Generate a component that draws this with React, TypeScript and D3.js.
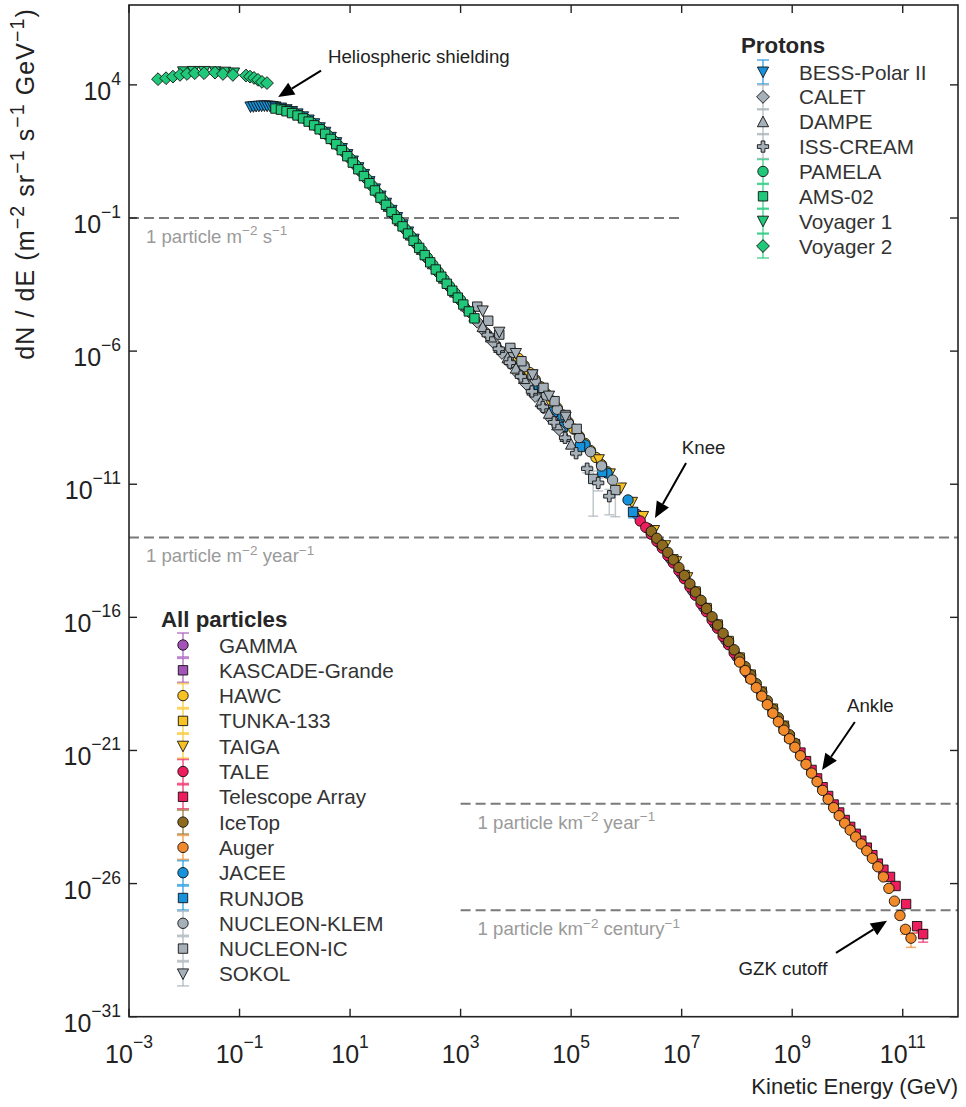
import React from "react";
import * as d3 from "d3";

// ---------- Proton spectra (kinetic energy in GeV, flux in m^-2 sr^-1 s^-1 GeV^-1) ----------
const bessE = [0.158, 0.178, 0.2, 0.224, 0.251, 0.282, 0.316, 0.355, 0.398, 0.447, 0.562, 0.708, 0.891, 1.12, 1.41, 1.78, 2.24, 2.82, 3.55, 4.47, 5.62, 7.08, 8.91, 11.2, 14.1, 17.8, 22.4, 28.2, 35.5, 44.7, 56.2, 70.8, 89.1, 112, 141];
const bessF = [1.48e3, 1.51e3, 1.55e3, 1.58e3, 1.6e3, 1.62e3, 1.6e3, 1.58e3, 1.53e3, 1.48e3, 1.35e3, 1.17e3, 1.0e3, 813, 631, 479, 347, 245, 166, 107, 67.6, 40.7, 24.0, 13.8, 7.76, 4.32, 2.32, 1.24, 0.668, 0.359, 0.193, 0.104, 0.0556, 0.0299, 0.016];

const caletE = [63.1, 100, 158, 251, 398, 631, 1000, 1410, 2000, 2820, 3980, 5620, 7940, 1.12e4, 1.58e4, 2.24e4, 3.16e4, 4.47e4, 6.03e4];
const caletF = [0.123, 0.0355, 0.0102, 2.95e-3, 8.51e-4, 2.51e-4, 7.59e-5, 3.09e-5, 1.26e-5, 5.13e-6, 2.09e-6, 8.51e-7, 3.47e-7, 1.41e-7, 5.56e-8, 2.04e-8, 7.5e-9, 2.75e-9, 1.16e-9];

const dampeE = [50.1, 79.4, 126, 200, 316, 501, 794, 1260, 1780, 2510, 3550, 5010, 7080, 1.0e4, 1.41e4, 2.0e4, 2.82e4, 3.98e4, 5.62e4, 7.94e4, 1.0e5];
const dampeF = [0.275, 0.0794, 0.0229, 6.61e-3, 1.91e-3, 5.5e-4, 1.66e-4, 5.01e-5, 2.04e-5, 8.32e-6, 3.39e-6, 1.38e-6, 5.62e-7, 2.29e-7, 9.33e-8, 3.43e-8, 1.26e-8, 4.62e-9, 1.7e-9, 6.24e-10, 3.2e-10];

const issCreamE = [3090, 4900, 7760, 1.23e4, 1.95e4, 3.09e4, 4.9e4, 7.76e4, 1.23e5, 1.95e5, 3.09e5, 4.9e5];
const issCreamF = [4.04e-6, 1.22e-6, 3.68e-7, 1.11e-7, 3.05e-8, 8.02e-9, 2.11e-9, 5.55e-10, 1.46e-10, 3.84e-11, 1.12e-11, 3.55e-12];
const issCreamErr = [0.05, 0.05, 0.05, 0.05, 0.05, 0.1, 0.1, 0.15, 0.2, 0.3, 0.5, 0.8];

const pamelaE = [0.501, 0.631, 0.794, 1.0, 1.26, 1.58, 2.0, 2.51, 3.16, 3.98, 5.01, 6.31, 7.94, 10.0, 12.6, 15.8, 20.0, 25.1, 31.6, 39.8, 50.1, 63.1, 79.4, 100, 126, 158, 200, 251, 316, 398, 501, 631, 794, 1000];
const pamelaF = [1.35e3, 1.2e3, 1.04e3, 861, 684, 525, 389, 279, 193, 127, 81.3, 50.1, 29.9, 17.4, 9.89, 5.56, 3.02, 1.62, 0.871, 0.468, 0.251, 0.135, 0.0724, 0.0389, 0.0209, 0.0112, 6.03e-3, 3.24e-3, 1.74e-3, 9.33e-4, 5.01e-4, 2.75e-4, 1.51e-4, 8.32e-5];

const amsE = [0.447, 0.562, 0.708, 0.891, 1.12, 1.41, 1.78, 2.24, 2.82, 3.55, 4.47, 5.62, 7.08, 8.91, 11.2, 14.1, 17.8, 22.4, 28.2, 35.5, 44.7, 56.2, 70.8, 89.1, 112, 141, 178, 224, 282, 355, 447, 562, 708, 891, 1120, 1410, 1780];
const amsF = [1.29e3, 1.17e3, 1.02e3, 871, 708, 550, 417, 302, 214, 145, 93.3, 58.9, 35.5, 20.9, 12.0, 6.76, 3.76, 2.02, 1.08, 0.582, 0.313, 0.168, 0.0902, 0.0484, 0.026, 0.014, 7.5e-3, 4.03e-3, 2.16e-3, 1.16e-3, 6.24e-4, 3.39e-4, 1.86e-4, 1.02e-4, 5.62e-5, 3.09e-5, 1.7e-5];

const voyager1E = [9.55e-3, 1.45e-2, 2.29e-2, 3.63e-2, 5.5e-2, 7.94e-2];
const voyager1F = [3.1e4, 3.2e4, 3.2e4, 3.1e4, 3.0e4, 2.8e4];

const voyager2E = [3.35e-3, 4.68e-3, 6.24e-3, 8.38e-3, 1.12e-2, 1.55e-2, 2.28e-2, 3.6e-2, 5.01e-2, 7.59e-2, 0.131, 0.155, 0.183, 0.216, 0.255, 0.314];
const voyager2F = [1.64e4, 1.78e4, 2.04e4, 2.37e4, 2.57e4, 2.75e4, 2.75e4, 2.88e4, 2.57e4, 2.37e4, 2.24e4, 2.04e4, 1.82e4, 1.55e4, 1.29e4, 1.17e4];

// ---------- All-particle spectra ----------
const gammaE = [1.58e6, 2.51e6, 3.98e6, 6.31e6, 1.0e7, 1.58e7, 2.51e7, 3.98e7, 6.31e7, 1.0e8, 1.58e8];
const gammaF = [7.24e-13, 2.14e-13, 6.17e-14, 1.58e-14, 4.17e-15, 1.0e-15, 2.4e-16, 5.75e-17, 1.38e-17, 3.31e-18, 7.76e-19];

const kascadeE = [1.12e7, 1.78e7, 2.82e7, 4.47e7, 7.08e7, 1.12e8, 1.78e8, 2.82e8, 4.47e8, 7.08e8, 8.91e8];
const kascadeF = [3.55e-15, 8.51e-16, 2.04e-16, 4.9e-17, 1.12e-17, 2.51e-18, 5.37e-19, 1.2e-19, 2.82e-20, 6.61e-21, 3.16e-21];

const hawcE = [1.12e4, 1.41e4, 1.78e4, 2.24e4, 2.82e4, 3.55e4, 4.47e4, 5.62e4, 7.08e4, 8.91e4, 1.12e5, 1.41e5, 1.78e5, 2.24e5, 2.82e5, 3.55e5, 4.47e5];
const hawcF = [5.33e-7, 2.89e-7, 1.57e-7, 8.49e-8, 4.6e-8, 2.49e-8, 1.35e-8, 7.33e-9, 3.97e-9, 2.15e-9, 1.17e-9, 6.32e-10, 3.43e-10, 1.86e-10, 1.01e-10, 5.46e-11, 2.96e-11];

const tunkaE = [7.08e6, 1.12e7, 1.78e7, 2.82e7, 4.47e7, 7.08e7, 1.12e8, 1.78e8, 2.82e8, 4.47e8, 7.08e8];
const tunkaF = [1.51e-14, 3.89e-15, 9.33e-16, 2.24e-16, 5.37e-17, 1.29e-17, 3.09e-18, 7.08e-19, 1.62e-19, 3.72e-20, 8.51e-21];

const taigaE = [3.16e5, 5.01e5, 7.94e5, 1.26e6, 2.0e6, 3.16e6, 5.01e6, 7.94e6, 1.26e7];
const taigaF = [8.32e-11, 2.45e-11, 7.24e-12, 2.09e-12, 6.17e-13, 1.82e-13, 4.9e-14, 1.23e-14, 3.09e-15];

const taleE = [1.78e6, 2.24e6, 2.82e6, 3.55e6, 4.47e6, 5.62e6, 7.08e6, 8.91e6, 1.12e7, 1.41e7, 1.78e7, 2.24e7, 2.82e7, 3.55e7, 4.47e7, 5.62e7, 7.08e7, 8.91e7, 1.12e8, 1.41e8, 1.78e8];
const taleF = [4.17e-13, 2.4e-13, 1.32e-13, 7.24e-14, 3.98e-14, 2.09e-14, 1.1e-14, 5.62e-15, 2.82e-15, 1.38e-15, 6.76e-16, 3.31e-16, 1.62e-16, 7.94e-17, 3.89e-17, 1.91e-17, 9.33e-18, 4.57e-18, 2.24e-18, 1.07e-18, 5.13e-19];

const taE = [1.12e9, 1.41e9, 1.78e9, 2.24e9, 2.82e9, 3.55e9, 4.47e9, 5.62e9, 7.08e9, 8.91e9, 1.12e10, 1.41e10, 1.78e10, 2.24e10, 2.82e10, 3.55e10, 4.47e10, 5.89e10, 7.41e10, 1.15e11, 1.82e11, 2.34e11];
const taF = [1.74e-21, 8.32e-22, 3.98e-22, 1.86e-22, 8.91e-23, 4.17e-23, 1.95e-23, 9.33e-24, 4.68e-24, 2.45e-24, 1.35e-24, 7.41e-25, 4.07e-25, 2.24e-25, 1.17e-25, 5.62e-26, 3.31e-26, 1.78e-26, 8.13e-27, 1.7e-27, 2.51e-28, 1.26e-28];
const taErr = [0, 0, 0, 0, 0, 0, 0, 0, 0, 0, 0, 0, 0, 0, 0, 0, 0, 0, 0, 0.25, 0.45, 0.5];

const icetopE = [2.82e6, 3.55e6, 4.47e6, 5.62e6, 7.08e6, 8.91e6, 1.12e7, 1.41e7, 1.78e7, 2.24e7, 2.82e7, 3.55e7, 4.47e7, 5.62e7, 7.08e7, 8.91e7, 1.12e8, 1.41e8, 1.78e8, 2.24e8, 2.82e8, 3.55e8, 4.47e8, 5.62e8, 7.08e8, 8.91e8, 1.12e9];
const icetopF = [1.7e-13, 9.33e-14, 5.13e-14, 2.75e-14, 1.45e-14, 7.41e-15, 3.72e-15, 1.82e-15, 8.91e-16, 4.37e-16, 2.14e-16, 1.05e-16, 5.13e-17, 2.51e-17, 1.23e-17, 6.03e-18, 2.95e-18, 1.41e-18, 6.76e-19, 3.24e-19, 1.55e-19, 7.41e-20, 3.55e-20, 1.7e-20, 8.13e-21, 3.89e-21, 1.86e-21];

const augerE = [1.12e8, 1.41e8, 1.78e8, 2.24e8, 2.82e8, 3.55e8, 4.47e8, 5.62e8, 7.08e8, 8.91e8, 1.12e9, 1.41e9, 1.78e9, 2.24e9, 2.82e9, 3.55e9, 4.47e9, 5.62e9, 7.08e9, 8.91e9, 1.12e10, 1.41e10, 1.78e10, 2.24e10, 2.82e10, 3.55e10, 4.47e10, 5.62e10, 7.08e10, 8.91e10, 1.12e11, 1.41e11];
const augerF = [2.09e-18, 1.0e-18, 4.79e-19, 2.29e-19, 1.1e-19, 5.25e-20, 2.51e-20, 1.2e-20, 5.75e-21, 2.75e-21, 1.32e-21, 6.31e-22, 3.02e-22, 1.41e-22, 6.76e-23, 3.16e-23, 1.48e-23, 7.08e-24, 3.55e-24, 1.86e-24, 1.02e-24, 5.62e-25, 3.09e-25, 1.7e-25, 8.91e-26, 4.27e-26, 1.78e-26, 6.61e-27, 2.19e-27, 6.31e-28, 1.91e-28, 8.91e-29];
const augerErr = [0, 0, 0, 0, 0, 0, 0, 0, 0, 0, 0, 0, 0, 0, 0, 0, 0, 0, 0, 0, 0, 0, 0, 0, 0, 0, 0, 0, 0, 0.2, 0.35, 0.55];

const jaceeE = [2.82e4, 7.08e4, 1.78e5, 4.47e5, 1.07e6];
const jaceeF = [4.07e-8, 3.55e-9, 3.02e-10, 2.63e-11, 2.57e-12];

const runjobE = [2.0e4, 4.68e4, 7.08e4, 1.45e5, 3.63e5, 1.32e6];
const runjobF = [5.01e-8, 5.25e-9, 1.41e-9, 2.51e-10, 2.88e-11, 9.12e-13];
const runjobErr = [0.05, 0.05, 0.05, 0.1, 0.2, 0.4];

const klemE = [8910, 1.41e4, 2.24e4, 3.55e4, 5.62e4, 8.91e4, 1.41e5, 2.24e5, 3.55e5, 5.62e5];
const klemF = [8.77e-7, 2.58e-7, 7.57e-8, 2.22e-8, 6.53e-9, 1.92e-9, 5.64e-10, 1.66e-10, 4.86e-11, 1.43e-11];

const nucleonIcE = [2000, 3160, 5010, 7940, 1.26e4, 2.0e4, 3.16e4, 5.01e4, 7.94e4, 1.26e5, 2.51e5, 6.31e5];
const nucleonIcF = [4.68e-5, 1.38e-5, 4.17e-6, 1.32e-6, 4.17e-7, 1.32e-7, 4.17e-8, 1.32e-8, 3.98e-9, 1.2e-9, 1.58e-11, 6.03e-12];
const nucleonIcErr = [0.05, 0.05, 0.05, 0.05, 0.05, 0.05, 0.1, 0.1, 0.1, 0.2, 0.96, 0.9];

const sokolE = [2510, 5010, 1.0e4, 2.0e4, 3.98e4, 7.94e4];
const sokolF = [3.24e-5, 5.13e-6, 8.13e-7, 1.29e-7, 2.04e-8, 3.31e-9];

// ---------- Axis ticks and reference levels ----------
const xTickValues = [1e-3, 1e-1, 1e1, 1e3, 1e5, 1e7, 1e9, 1e11];
const yTickValues = [1e4, 1e-1, 1e-6, 1e-11, 1e-16, 1e-21, 1e-26, 1e-31];

const refLevels = [
  { flux: 1e-1, from: 1e-3, to: 1e7, pre: "1 particle m", parts: [["−2", " s"], ["−1", ""]] },
  { flux: 1e-13, from: 1e-3, to: 1e12, pre: "1 particle m", parts: [["−2", " year"], ["−1", ""]] },
  { flux: 1e-23, from: 1e3, to: 1e12, pre: "1 particle km", parts: [["−2", " year"], ["−1", ""]] },
  { flux: 1e-27, from: 1e3, to: 1e12, pre: "1 particle km", parts: [["−2", " century"], ["−1", ""]] },
];

const annotations = [
  { text: "Heliospheric shielding", tip: [0.5, 3.5e3], tail: [2.98, 3.4e4], at: [3.98, 6.8e4], anchor: "start" },
  { text: "Knee", tip: [3.29e6, 5.4e-13], tail: [1.2e7, 6.3e-11], at: [2.5e7, 1.4e-10], anchor: "middle" },
  { text: "Ankle", tip: [3.47e9, 1.86e-22], tail: [1.36e10, 1.17e-20], at: [2.6e10, 2.8e-20], anchor: "middle" },
  { text: "GZK cutoff", tip: [5.2e10, 4.0e-28], tail: [6.2e9, 2.5e-29], at: [6.8e8, 3.7e-30], anchor: "middle" },
];

// ---------- Styling ----------
const GREEN = "#20c97a";
const BLUE = "#1592db";
const GRAY = "#a6b0b8";
const PURPLE = "#a453b8";
const YELLOW = "#f8c322";
const RED = "#ee1d5e";
const BROWN = "#8e6a1f";
const ORANGE = "#f28a2b";
const FONT = '"Liberation Sans", Arial, Helvetica, sans-serif';

type Shape = "circle" | "square" | "triUp" | "triDown" | "diamond" | "plus";

interface Series {
  name: string;
  shape: Shape;
  color: string;
  E: number[];
  F: number[];
  err?: number[];
}

const protonSeries: Series[] = [
  { name: "BESS-Polar II", shape: "triDown", color: BLUE, E: bessE, F: bessF },
  { name: "CALET", shape: "diamond", color: GRAY, E: caletE, F: caletF },
  { name: "DAMPE", shape: "triUp", color: GRAY, E: dampeE, F: dampeF },
  { name: "ISS-CREAM", shape: "plus", color: GRAY, E: issCreamE, F: issCreamF, err: issCreamErr },
  { name: "PAMELA", shape: "circle", color: GREEN, E: pamelaE, F: pamelaF },
  { name: "AMS-02", shape: "square", color: GREEN, E: amsE, F: amsF },
  { name: "Voyager 1", shape: "triDown", color: GREEN, E: voyager1E, F: voyager1F },
  { name: "Voyager 2", shape: "diamond", color: GREEN, E: voyager2E, F: voyager2F },
];

const allParticleSeries: Series[] = [
  { name: "GAMMA", shape: "circle", color: PURPLE, E: gammaE, F: gammaF },
  { name: "KASCADE-Grande", shape: "square", color: PURPLE, E: kascadeE, F: kascadeF },
  { name: "HAWC", shape: "circle", color: YELLOW, E: hawcE, F: hawcF },
  { name: "TUNKA-133", shape: "square", color: YELLOW, E: tunkaE, F: tunkaF },
  { name: "TAIGA", shape: "triDown", color: YELLOW, E: taigaE, F: taigaF },
  { name: "TALE", shape: "circle", color: RED, E: taleE, F: taleF },
  { name: "Telescope Array", shape: "square", color: RED, E: taE, F: taF, err: taErr },
  { name: "IceTop", shape: "circle", color: BROWN, E: icetopE, F: icetopF },
  { name: "Auger", shape: "circle", color: ORANGE, E: augerE, F: augerF, err: augerErr },
  { name: "JACEE", shape: "circle", color: BLUE, E: jaceeE, F: jaceeF },
  { name: "RUNJOB", shape: "square", color: BLUE, E: runjobE, F: runjobF, err: runjobErr },
  { name: "NUCLEON-KLEM", shape: "circle", color: GRAY, E: klemE, F: klemF },
  { name: "NUCLEON-IC", shape: "square", color: GRAY, E: nucleonIcE, F: nucleonIcF, err: nucleonIcErr },
  { name: "SOKOL", shape: "triDown", color: GRAY, E: sokolE, F: sokolF },
];

const W = 966;
const H = 1107;
const plot = { left: 129, right: 958, top: 5, bottom: 1016.7 };

const x = d3.scaleLog().domain([1e-3, 1e12]).range([plot.left, plot.right]);
const y = d3.scaleLog().domain([1e-31, 1e7]).range([plot.bottom, plot.top]);

const circlePath = d3.symbol(d3.symbolCircle, Math.PI * 5.2 * 5.2)() as string;
const squarePath = d3.symbol(d3.symbolSquare, 9.4 * 9.4)() as string;
const plusPath = d3.symbol(d3.symbolCross, 70)() as string;

function shapePath(shape: Shape): string {
  switch (shape) {
    case "circle":
      return circlePath;
    case "square":
      return squarePath;
    case "plus":
      return plusPath;
    case "triUp":
      return "M0,-5.6L5.6,5L-5.6,5Z";
    case "triDown":
      return "M0,5.6L5.6,-5L-5.6,-5Z";
    case "diamond":
      return "M0,-6.4L6.4,0L0,6.4L-6.4,0Z";
  }
}

function Marker({ s, cx, cy }: { s: Series; cx: number; cy: number }) {
  return (
    <path
      d={shapePath(s.shape)}
      transform={`translate(${cx},${cy})`}
      fill={s.color}
      stroke="#111"
      strokeWidth={0.9}
    />
  );
}

function SeriesMarks({ s }: { s: Series }) {
  return (
    <g>
      {s.err &&
        s.E.map((e, i) => {
          const r = s.err![i];
          if (!r) return null;
          const cx = x(e);
          const y0 = y(s.F[i] * (1 - r));
          const y1 = y(s.F[i] * (1 + r));
          return (
            <g key={"e" + i} stroke={s.color} strokeOpacity={0.7} strokeWidth={1.5}>
              <line x1={cx} x2={cx} y1={y0} y2={y1} />
              <line x1={cx - 5} x2={cx + 5} y1={y0} y2={y0} />
              <line x1={cx - 5} x2={cx + 5} y1={y1} y2={y1} />
            </g>
          );
        })}
      {s.E.map((e, i) => (
        <Marker key={i} s={s} cx={x(e)} cy={y(s.F[i])} />
      ))}
    </g>
  );
}

function Legend({
  title,
  series,
  left,
  titleY,
  firstY,
  step,
}: {
  title: string;
  series: Series[];
  left: number;
  titleY: number;
  firstY: number;
  step: number;
}) {
  const mx = left + 22;
  return (
    <g fontFamily={FONT}>
      <text x={left} y={titleY} fontSize={22.3} fontWeight="bold" fill="#262626">
        {title}
      </text>
      {series.map((s, i) => {
        const cy = firstY + i * step;
        return (
          <g key={s.name}>
            <g stroke={s.color} strokeOpacity={0.7} strokeWidth={1.6}>
              <line x1={mx} x2={mx} y1={cy - 12} y2={cy + 12} />
              <line x1={mx - 6} x2={mx + 6} y1={cy - 12} y2={cy - 12} />
              <line x1={mx - 6} x2={mx + 6} y1={cy + 12} y2={cy + 12} />
            </g>
            <Marker s={s} cx={mx} cy={cy} />
            <text x={left + 58} y={cy + 7.5} fontSize={20.7} fill="#333">
              {s.name}
            </text>
          </g>
        );
      })}
    </g>
  );
}

function Arrow({ tip, tail }: { tip: number[]; tail: number[] }) {
  const x1 = x(tail[0]);
  const y1 = y(tail[1]);
  const x2 = x(tip[0]);
  const y2 = y(tip[1]);
  const ang = Math.atan2(y2 - y1, x2 - x1);
  const headLen = 16;
  const headW = 7;
  const bx = x2 - headLen * Math.cos(ang);
  const by = y2 - headLen * Math.sin(ang);
  const px = -Math.sin(ang) * headW;
  const py = Math.cos(ang) * headW;
  return (
    <g>
      <line x1={x1} y1={y1} x2={bx} y2={by} stroke="#000" strokeWidth={2} />
      <path d={`M${x2},${y2}L${bx + px},${by + py}L${bx - px},${by - py}Z`} fill="#000" />
    </g>
  );
}

function expLabel(v: number) {
  const p = Math.round(Math.log10(v));
  return p < 0 ? "−" + Math.abs(p) : String(p);
}

export default function App() {
  return (
    <svg
      width={W}
      height={H}
      viewBox={`0 0 ${W} ${H}`}
      style={{ position: "absolute", left: 0, top: 0, background: "#fff" }}
      fontFamily={FONT}
    >
      <rect x={0} y={0} width={W} height={H} fill="#fff" />

      {/* reference flux levels */}
      {refLevels.map((r, i) => {
        const ly = y(r.flux);
        return (
          <g key={i}>
            <line
              x1={x(r.from)}
              x2={x(r.to)}
              y1={ly}
              y2={ly}
              stroke="#7a7a7a"
              strokeWidth={2}
              strokeDasharray="10,5"
            />
            <text x={x(r.from) + 17} y={ly + 25} fontSize={18.6} fill="#9a9a9a">
              {r.pre}
              <tspan dy={-7.5} fontSize={13.5}>
                {r.parts[0][0]}
              </tspan>
              <tspan dy={7.5}>{r.parts[0][1]}</tspan>
              <tspan dy={-7.5} fontSize={13.5}>
                {r.parts[1][0]}
              </tspan>
            </text>
          </g>
        );
      })}

      {/* data */}
      {allParticleSeries.map((s) => (
        <SeriesMarks key={s.name} s={s} />
      ))}
      {protonSeries.map((s) => (
        <SeriesMarks key={s.name} s={s} />
      ))}

      {/* annotations */}
      {annotations.map((a) => (
        <g key={a.text}>
          <Arrow tip={a.tip} tail={a.tail} />
          <text
            x={x(a.at[0])}
            y={y(a.at[1])}
            fontSize={18.7}
            fill="#222"
            textAnchor={a.anchor as any}
          >
            {a.text}
          </text>
        </g>
      ))}

      {/* frame and ticks */}
      <rect
        x={plot.left}
        y={plot.top}
        width={plot.right - plot.left}
        height={plot.bottom - plot.top}
        fill="none"
        stroke="#222"
        strokeWidth={1.6}
      />
      {xTickValues.map((v) => (
        <g key={"xt" + v}>
          <line x1={x(v)} x2={x(v)} y1={plot.bottom} y2={plot.bottom - 8} stroke="#222" strokeWidth={1.4} />
          <line x1={x(v)} x2={x(v)} y1={plot.top} y2={plot.top + 8} stroke="#222" strokeWidth={1.4} />
          <text x={x(v)} y={1063} fontSize={25} fill="#222" textAnchor="middle">
            10
            <tspan dy={-15} fontSize={17.5}>
              {expLabel(v)}
            </tspan>
          </text>
        </g>
      ))}
      {yTickValues.map((v) => (
        <g key={"yt" + v}>
          <line x1={plot.left} x2={plot.left + 8} y1={y(v)} y2={y(v)} stroke="#222" strokeWidth={1.4} />
          <line x1={plot.right} x2={plot.right - 8} y1={y(v)} y2={y(v)} stroke="#222" strokeWidth={1.4} />
          <text x={121} y={y(v) + 15} fontSize={25} fill="#222" textAnchor="end">
            10
            <tspan dy={-15} fontSize={17.5}>
              {expLabel(v)}
            </tspan>
          </text>
        </g>
      ))}

      {/* axis titles */}
      <text x={plot.right} y={1094} fontSize={22} fill="#222" textAnchor="end">
        Kinetic Energy (GeV)
      </text>
      <text
        transform="translate(34,8) rotate(-90)"
        fontSize={25}
        fill="#222"
        textAnchor="end"
        style={{ letterSpacing: "1.1px" }}
      >
        dN / dE (m
        <tspan dy={-10} fontSize={19.5}>−2</tspan>
        <tspan dy={10}> sr</tspan>
        <tspan dy={-10} fontSize={19.5}>−1</tspan>
        <tspan dy={10}> s</tspan>
        <tspan dy={-10} fontSize={19.5}>−1</tspan>
        <tspan dy={10}> GeV</tspan>
        <tspan dy={-10} fontSize={19.5}>−1</tspan>
        <tspan dy={10}>)</tspan>
      </text>

      {/* legends */}
      <Legend title="Protons" series={protonSeries} left={741} titleY={53} firstY={72} step={24.86} />
      <Legend title="All particles" series={allParticleSeries} left={161} titleY={627} firstY={645} step={25.3} />
    </svg>
  );
}
